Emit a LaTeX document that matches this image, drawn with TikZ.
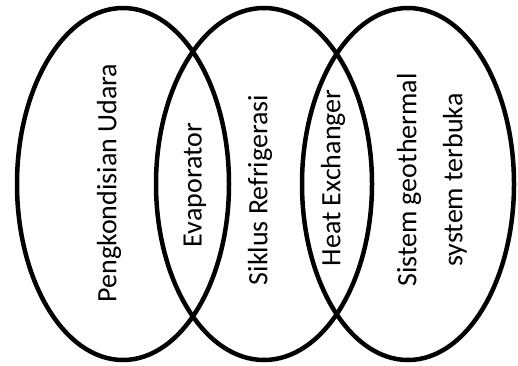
\documentclass[tikz,border=0pt]{standalone}
\usepackage{fontspec}
\setmainfont{Carlito}
\begin{document}
\begin{tikzpicture}[x=1pt,y=-1pt,
  ring/.style={draw=black,line width=4.5pt},
  lbl/.style={rotate=90,inner sep=0pt,font=\fontsize{28}{46}\selectfont,align=center}]
\useasboundingbox (0,0) rectangle (518,365);
\draw[ring] (123,184) ellipse [x radius=106, y radius=176];
\draw[ring] (264,184) ellipse [x radius=108, y radius=176];
\draw[ring] (408,184) ellipse [x radius=106, y radius=176];
\node[lbl] (pu) at (109,183) {Pengkondisian Udara};
\node[lbl] (ev) at (195,185) {Evaporator};
\node[lbl] (sr) at (260,190) {Siklus Refrigerasi};
\node[lbl] (he) at (333,178) {Heat Exchanger};
\node[lbl] (sg) at (432,180) {Sistem geothermal\\system terbuka};
\end{tikzpicture}
\end{document}
